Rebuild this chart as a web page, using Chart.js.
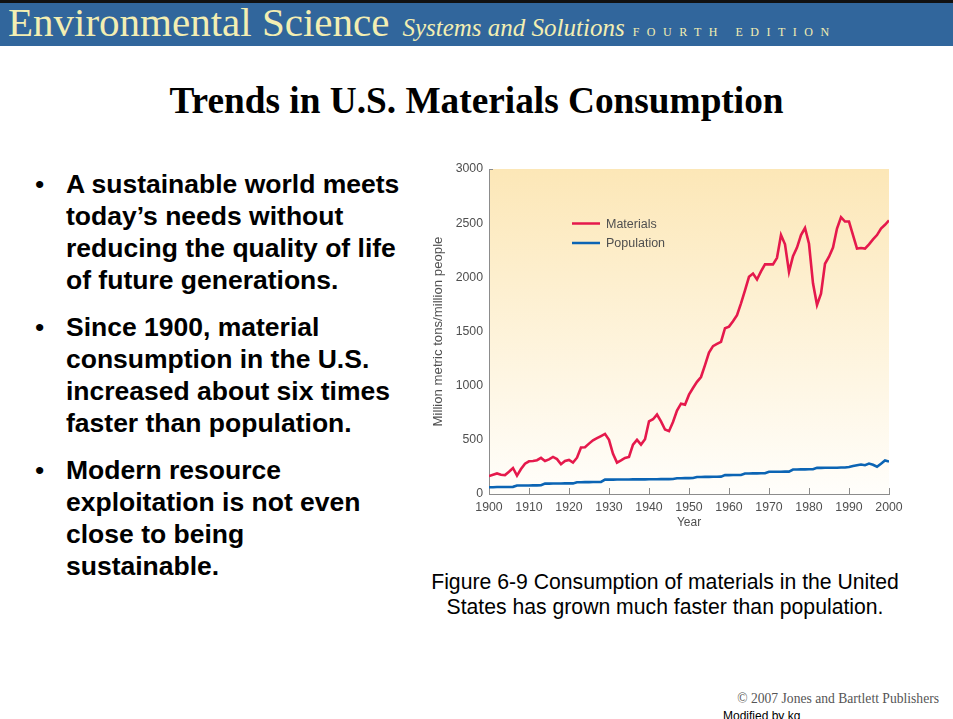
<!DOCTYPE html>
<html>
<head>
<meta charset="utf-8">
<script src="https://cdn.jsdelivr.net/npm/chart.js@4.4.1/dist/chart.umd.min.js"></script>
<style>
  html, body { margin: 0; padding: 0; background: #fff; }
  body { width: 953px; height: 719px; position: relative; overflow: hidden; font-family: "Liberation Sans", Arial, sans-serif; }
  #bar { position: absolute; left: 0; top: 0; width: 953px; height: 46px; background: #31669c; border-top: 3px solid #111; box-sizing: border-box; }
  #brand { position: absolute; left: 8px; top: 2px; display: flex; align-items: baseline; white-space: nowrap; color: #f3eeb2; font-family: "Liberation Serif", "Times New Roman", serif; line-height: 40px; }
  #brand .big { font-size: 41px; }
  #brand .it { font-size: 25px; font-style: italic; margin-left: 13px; }
  #brand .ed { font-size: 12px; letter-spacing: 7.5px; margin-left: 8px; }
  #title { position: absolute; left: 0; top: 82px; width: 953px; text-align: center; font-family: "Liberation Serif", "Times New Roman", serif; font-weight: bold; font-size: 37.3px; line-height: 37px; color: #000; }
  .bullet { position: absolute; left: 66px; font-weight: bold; font-size: 26.5px; line-height: 32px; color: #000; white-space: nowrap; }
  .bullet::before { content: "\2022"; position: absolute; left: -31px; top: 0; font-weight: normal; }
  #wrap { position: absolute; left: 420px; top: 155px; width: 500px; height: 390px; }
  #caption { position: absolute; left: 365px; top: 569px; width: 600px; text-align: center; font-size: 21.2px; line-height: 25px; color: #000; }
  #copy { position: absolute; right: 14px; top: 692px; font-family: "Liberation Serif", "Times New Roman", serif; font-size: 13.6px; line-height: 14px; color: #555; }
  #mod { position: absolute; left: 723px; top: 709px; font-size: 12px; line-height: 14px; color: #000; }
</style>
</head>
<body>
<div id="bar"></div>
<div id="brand"><span class="big">Environmental Science</span><span class="it">Systems and Solutions</span><span class="ed">FOURTH EDITION</span></div>
<div id="title">Trends in U.S. Materials Consumption</div>

<div class="bullet" style="top:168px">A sustainable world meets<br>today’s needs without<br>reducing the quality of life<br>of future generations.</div>
<div class="bullet" style="top:311px">Since 1900, material<br>consumption in the U.S.<br>increased about six times<br>faster than population.</div>
<div class="bullet" style="top:454px">Modern resource<br>exploitation is not even<br>close to being<br>sustainable.</div>

<div id="wrap"><canvas id="myChart"></canvas></div>

<div id="caption">Figure 6-9 Consumption of materials in the United<br>States has grown much faster than population.</div>
<div id="copy">© 2007 Jones and Bartlett Publishers</div>
<div id="mod">Modified by kg</div>

<script>
// waarden, 1 punt per jaar (1900-2000)
const years = Array.from({ length: 101 }, (_, i) => 1900 + i);

const materials = [
    165, 178, 190, 178, 175, 205, 240, 170, 230, 280,
    302, 305, 312, 333, 305, 320, 342, 322, 275, 305,
    315, 290, 335, 430, 432, 465, 496, 515, 535, 555,
    500, 370, 290, 310, 333, 342, 456, 500, 456, 505,
    671, 690, 733, 670, 595, 580, 665, 770, 834, 825,
    917, 978, 1035, 1080, 1190, 1305, 1365, 1385, 1405, 1530,
    1545, 1595, 1650, 1760, 1880, 2005, 2035, 1980, 2055, 2120,
    2120, 2120, 2180, 2390, 2305, 2050, 2195, 2275, 2390, 2455,
    2310, 1945, 1745, 1850, 2125, 2190, 2275, 2450, 2555, 2515,
    2515, 2390, 2265, 2270, 2265, 2305, 2350, 2390, 2450, 2485,
    2525
];

const population = [
    63, 63, 64, 64, 65, 65, 66, 78, 78, 79,
    79, 80, 80, 81, 96, 96, 97, 97, 97, 98,
    98, 98, 109, 109, 110, 110, 111, 111, 112, 133,
    133, 133, 134, 134, 134, 134, 135, 135, 135, 135,
    136, 136, 136, 137, 137, 137, 138, 146, 146, 147,
    147, 148, 157, 157, 158, 158, 159, 159, 160, 174,
    174, 175, 175, 176, 189, 189, 190, 190, 191, 191,
    205, 205, 206, 206, 207, 207, 226, 226, 227, 227,
    228, 228, 241, 241, 242, 242, 243, 243, 244, 244,
    250, 258, 266, 272, 266, 281, 270, 252, 280, 309,
    300
];

const xTicks = [1900, 1910, 1920, 1930, 1940, 1950, 1960, 1970, 1980, 1990, 2000];
const yTicks = [0, 500, 1000, 1500, 2000, 2500, 3000];

const axisGray = '#8c8c8c';
const labelGray = '#4f4f4f';

const plotBg = {
    id: 'plotBg',
    beforeDraw(chart) {
        const { ctx, chartArea: a } = chart;
        const g = ctx.createLinearGradient(0, a.top, 0, a.bottom);
        g.addColorStop(0, '#fce7b7');
        g.addColorStop(1, '#fffefb');
        ctx.save();
        ctx.fillStyle = g;
        ctx.fillRect(a.left, a.top, a.right - a.left, a.bottom - a.top);
        ctx.restore();
    },
    beforeDatasetsDraw(chart) {
        // kleine streepjes naar boven op de x-as
        const { ctx, chartArea: a, scales } = chart;
        ctx.save();
        ctx.strokeStyle = axisGray;
        ctx.lineWidth = 1;
        ctx.beginPath();
        xTicks.forEach(v => {
            const x = Math.round(scales.x.getPixelForValue(v)) + 0.5;
            ctx.moveTo(x, a.bottom);
            ctx.lineTo(x, a.bottom - 6);
        });
        const yTop = Math.round(scales.y.getPixelForValue(3000)) + 0.5;
        ctx.moveTo(a.left, yTop);
        ctx.lineTo(a.left + 4, yTop);
        ctx.stroke();
        ctx.restore();
    }
};

const insideLegend = {
    id: 'insideLegend',
    afterDatasetsDraw(chart) {
        const { ctx, chartArea: a } = chart;
        chart.data.datasets.forEach((ds, i) => {
            const x = a.left + 83;
            const y = a.top + 54.5 + i * 19.5;
            ctx.save();
            ctx.strokeStyle = ds.borderColor;
            ctx.lineWidth = 2.5;
            ctx.beginPath();
            ctx.moveTo(x, y);
            ctx.lineTo(x + 28, y);
            ctx.stroke();
            ctx.fillStyle = labelGray;
            ctx.font = '12.5px "Liberation Sans", Arial, sans-serif';
            ctx.textBaseline = 'middle';
            ctx.fillText(ds.label, x + 34, y + 1);
            ctx.restore();
        });
    }
};

const renderChart = () => {
    const ctx = document.getElementById('myChart').getContext('2d');
    Chart.defaults.font.family = '"Liberation Sans", Arial, sans-serif';

    new Chart(ctx, {
        type: 'line',
        data: {
            datasets: [{
                label: 'Materials',
                data: years.map((y, i) => ({ x: y, y: materials[i] })),
                borderColor: '#e5194c',
                borderWidth: 2.6,
                pointRadius: 0,
                tension: 0
            }, {
                label: 'Population',
                data: years.map((y, i) => ({ x: y, y: population[i] })),
                borderColor: '#0b64b4',
                borderWidth: 2.6,
                pointRadius: 0,
                tension: 0
            }]
        },
        options: {
            responsive: true,
            maintainAspectRatio: false,
            devicePixelRatio: 1,
            animation: false,
            layout: { padding: { top: 14, right: 31, left: 0, bottom: 0 } },
            plugins: {
                legend: { display: false },
                tooltip: { enabled: false }
            },
            scales: {
                x: {
                    type: 'linear',
                    min: 1900,
                    max: 2000,
                    afterBuildTicks: s => { s.ticks = xTicks.map(v => ({ value: v })); },
                    afterFit: s => { s.height = 51; },
                    ticks: {
                        callback: v => String(v),
                        color: labelGray,
                        font: { size: 12.3 },
                        padding: 6,
                        maxRotation: 0
                    },
                    grid: { drawOnChartArea: false, drawTicks: false },
                    border: { display: true, color: axisGray, width: 1 },
                    title: {
                        display: true,
                        text: 'Year',
                        color: labelGray,
                        font: { size: 12 },
                        padding: { top: 0, bottom: 15 }
                    }
                },
                y: {
                    min: 0,
                    max: 3000,
                    afterBuildTicks: s => { s.ticks = yTicks.map(v => ({ value: v })); },
                    afterFit: s => { s.width = 69; },
                    ticks: {
                        callback: v => String(v),
                        color: labelGray,
                        font: { size: 12.3 },
                        padding: 6
                    },
                    grid: { drawOnChartArea: false, drawTicks: false },
                    border: { display: true, color: axisGray, width: 1 },
                    title: {
                        display: true,
                        text: 'Million metric tons/million people',
                        color: labelGray,
                        font: { size: 13.2 },
                        padding: { top: 10.5, bottom: 0 }
                    }
                }
            }
        },
        plugins: [plotBg, insideLegend]
    });
};

document.addEventListener('DOMContentLoaded', renderChart);
</script>
</body>
</html>
